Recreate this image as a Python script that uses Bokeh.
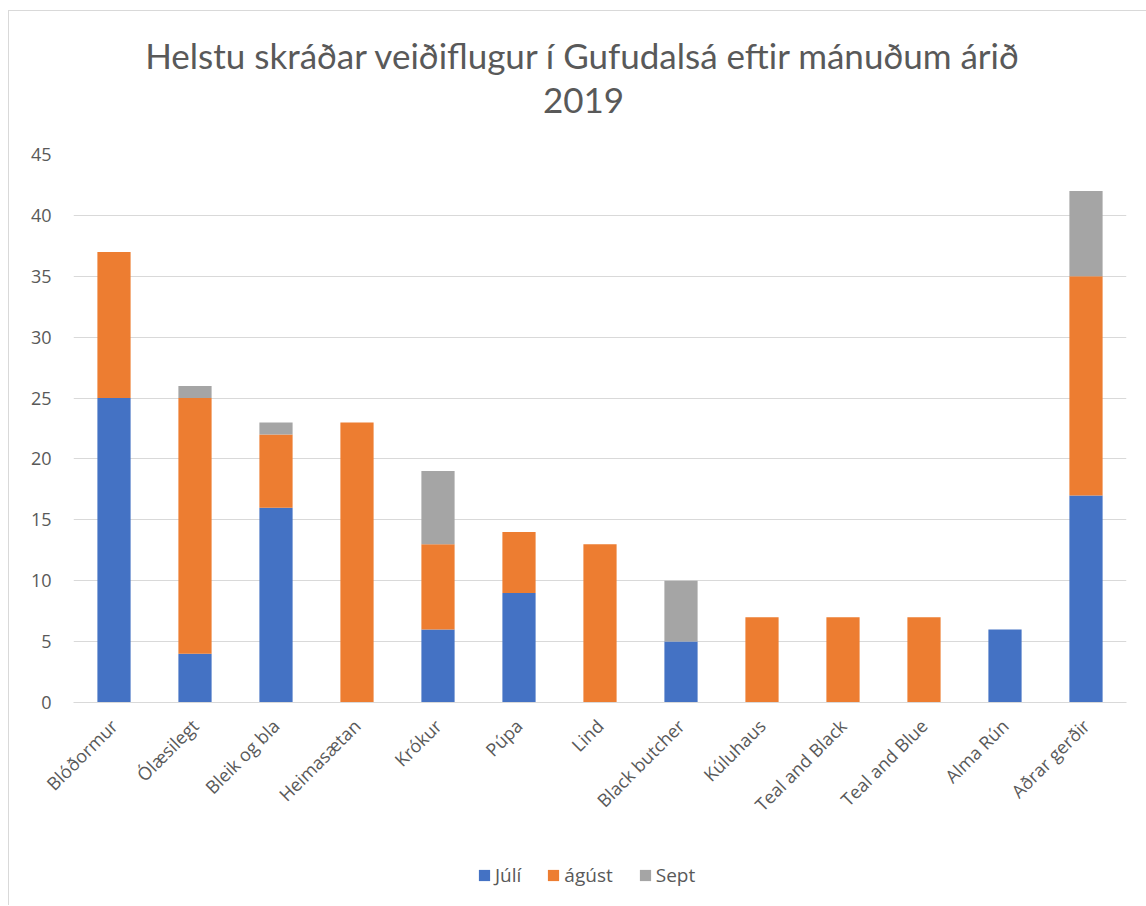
from bokeh.plotting import figure
from bokeh.models import ColumnDataSource, FactorRange, Range1d, Legend, LegendItem, Label
from bokeh.layouts import column
from bokeh.embed import file_html
from bokeh.resources import INLINE
import math

categories = ["Blóðormur", "Ólæsilegt", "Bleik og bla", "Heimasætan", "Krókur", "Púpa", "Lind",
              "Black butcher", "Kúluhaus", "Teal and Black", "Teal and Blue", "Alma Rún", "Aðrar gerðir"]
juli = [25, 4, 16, 0, 6, 9, 0, 5, 0, 0, 0, 6, 17]
agust = [12, 21, 6, 23, 7, 5, 13, 0, 7, 7, 7, 0, 18]
sept = [0, 1, 1, 0, 6, 0, 0, 5, 0, 0, 0, 0, 7]
series = ["Júlí", "ágúst", "Sept"]
colors = ["#4472C4", "#ED7D31", "#A5A5A5"]
title_lines = ["Helstu skráðar veiðiflugur í Gufudalsá eftir mánuðum árið", "2019"]

TEXT = "#595959"
W = 1137


def blank(height):
    f = figure(width=W, height=height, x_range=Range1d(0, 1), y_range=Range1d(0, 1),
               output_backend="svg", toolbar_location=None, x_axis_location=None,
               y_axis_location=None, min_border=0)
    f.grid.visible = False
    f.outline_line_color = None
    f.background_fill_color = "white"
    f.border_fill_color = "white"
    return f


# title panel (frame is aligned with the chart frame inside the column)
pt = blank(123)
for t, yy in zip(title_lines, [80, 34]):
    pt.add_layout(Label(x=510, y=yy, x_units="screen", y_units="screen", text=t,
                        text_align="center", text_baseline="middle", text_font="Lato",
                        text_font_size="35px", text_color=TEXT))

# main chart
source = ColumnDataSource(data=dict(cat=categories, **{"Júlí": juli, "ágúst": agust, "Sept": sept}))
p = figure(width=W, height=711, x_range=FactorRange(*categories, range_padding=0),
           y_range=Range1d(0, 45), output_backend="svg", toolbar_location=None,
           min_border_left=64, min_border_right=20, min_border_top=20, min_border_bottom=143)
p.outline_line_color = None
p.background_fill_color = "white"
p.border_fill_color = "white"

rs = p.vbar_stack(series, x="cat", width=0.41, color=colors, line_color=None, source=source)

p.xgrid.grid_line_color = None
p.ygrid.grid_line_color = "#D9D9D9"
p.ygrid.grid_line_width = 1
p.yaxis.ticker = list(range(0, 46, 5))
p.yaxis.axis_line_color = None
p.yaxis.major_tick_line_color = None
p.yaxis.minor_tick_line_color = None
p.yaxis.major_label_text_font = "Open Sans"
p.yaxis.major_label_text_font_size = "18px"
p.yaxis.major_label_text_color = TEXT
p.yaxis.major_label_standoff = 16

p.xaxis.axis_line_color = "#D9D9D9"
p.xaxis.major_tick_line_color = None
p.xaxis.minor_tick_line_color = None
p.xaxis.major_label_orientation = math.pi / 4
p.xaxis.major_label_text_font = "Open Sans"
p.xaxis.major_label_text_font_size = "18px"
p.xaxis.major_label_text_color = TEXT
p.xaxis.major_label_standoff = 14

# legend panel (zero-height proxy bars only supply the legend swatches)
pl = blank(60)
lr = [pl.vbar(x=[0.5], top=[0], bottom=[0], width=0.01, fill_color=c, line_color=None)
      for c in colors]
legend = Legend(items=[LegendItem(label=s, renderers=[r]) for s, r in zip(series, lr)],
                orientation="horizontal", location=(404, 17), glyph_width=14, glyph_height=14,
                label_text_font="Open Sans", label_text_font_size="19px", label_text_color=TEXT,
                label_standoff=4, spacing=25, padding=0, margin=0, border_line_color=None,
                background_fill_alpha=0)
pl.add_layout(legend, "center")

layout = column(pt, p, pl, spacing=0)
layout.styles = {"border-left": "1px solid #D9D9D9", "border-top": "1px solid #D9D9D9",
                 "margin-left": "8px", "margin-top": "10px", "background": "white"}

open("out.html", "w").write(file_html(layout, INLINE))
